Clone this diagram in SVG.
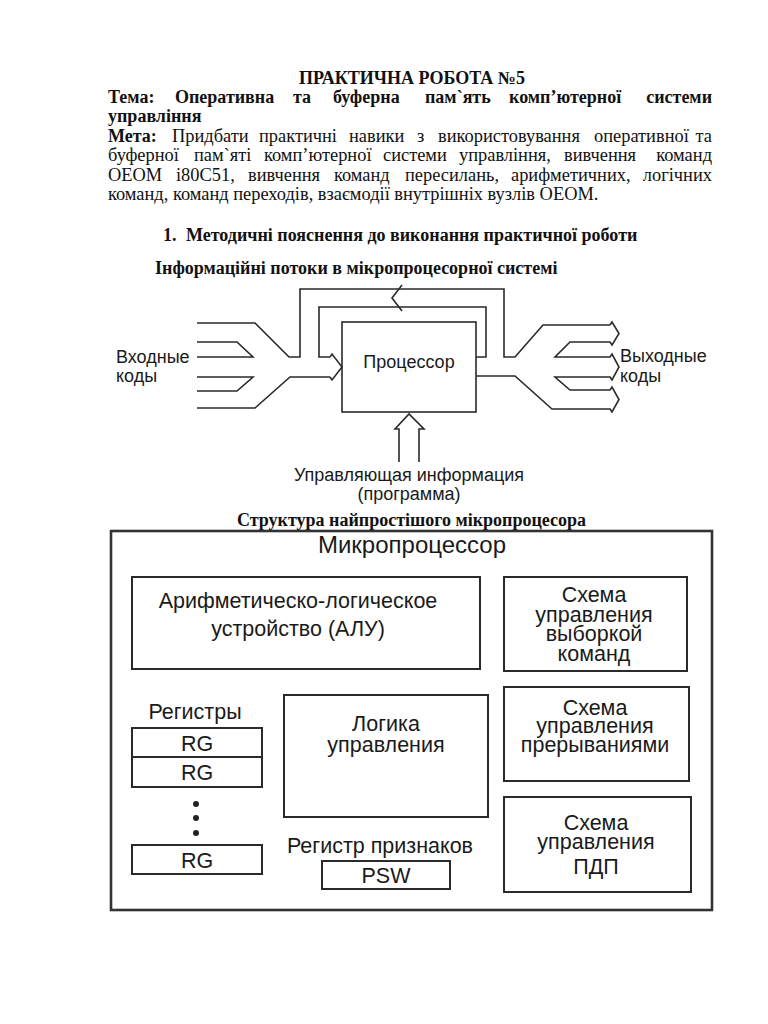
<svg xmlns="http://www.w3.org/2000/svg" width="768" height="1024" viewBox="0 0 768 1024">
<style>
.doc{font-family:"Liberation Serif","Times New Roman",serif;font-size:18.4px;fill:#111}
.b{font-weight:bold;font-size:18px}
.sans{font-family:"Liberation Sans",Arial,sans-serif;fill:#1a1a1a}
.f18{font-size:18px}
.f22{font-size:21.5px}
.f24{font-size:24px}
.mid{text-anchor:middle}
.end{text-anchor:end}
.ln{fill:none;stroke:#2a2a2a;stroke-width:1.6;stroke-linejoin:miter}
.box{fill:none;stroke:#2a2a2a;stroke-width:2}
.obox{fill:none;stroke:#333;stroke-width:2.6}
</style>
<rect width="768" height="1024" fill="#fff"/>
<g id="header">
<text class="doc b mid" x="412" y="84">ПРАКТИЧНА РОБОТА №5</text>
<text class="doc b" y="103"><tspan x="108">Тема:</tspan><tspan x="175">Оперативна</tspan><tspan x="293">та</tspan><tspan x="333">буферна</tspan><tspan x="425">пам`ять</tspan><tspan x="509">комп’ютерної</tspan></text>
<text class="doc b end" x="712" y="103">системи</text>
<text class="doc b" x="108" y="122">управління</text>
<text class="doc" y="142"><tspan class="b" x="108">Мета:</tspan><tspan x="172">Придбати</tspan><tspan x="259">практичні</tspan><tspan x="349">навики</tspan><tspan x="417">з</tspan><tspan x="438">використовування</tspan><tspan x="594">оперативної</tspan></text>
<text class="doc end" x="712" y="142">та</text>
<text class="doc" y="161"><tspan x="108">буферної</tspan><tspan x="194">пам`яті</tspan><tspan x="264">комп’ютерної</tspan><tspan x="383">системи</tspan><tspan x="459">управління,</tspan><tspan x="564">вивчення</tspan></text>
<text class="doc end" x="712" y="161">команд</text>
<text class="doc" y="181"><tspan x="108">ОЕОМ</tspan><tspan x="176">i80C51,</tspan><tspan x="248">вивчення</tspan><tspan x="334">команд</tspan><tspan x="405">пересилань,</tspan><tspan x="511">арифметичних,</tspan></text>
<text class="doc end" x="712" y="181">логічних</text>
<text class="doc" x="108" y="200">команд, команд переходів, взаємодії внутрішніх вузлів ОЕОМ.</text>
<text class="doc b" y="241"><tspan x="163">1.</tspan><tspan x="186">Методичні пояснення до виконання практичної роботи</tspan></text>
<text class="doc b" x="155" y="274">Інформаційні потоки в мікропроцесорної системі</text>
<text class="doc b" x="237" y="526">Структура найпростішого мікропроцесора</text>
</g>

<g id="flow-connectors">
<path class="ln" d="M197,323 H255 L289,357 H300 V289 H504 V357 H515 L543,325 H610"/>
<path class="ln" d="M197,342 H237 L253,357 H197"/>
<path class="ln" d="M197,377 H253 L237,391 H197"/>
<path class="ln" d="M197,408 H255 L290,377 H330"/>
<path class="ln" d="M476,357 H486 V307 H319 V357 H330"/>
<path class="ln" d="M330,357 L332,354 L342,367 L332,380 L330,377"/>
<path class="ln" d="M402,285 L392,298 L402,311"/>
<path class="ln" d="M610,325 L612,322 L619,333.5 L612,345 L610,342 H570 L555,357 H610 L612,354 L619,367 L612,380 L610,377 H555 L570,390 H610 L612,387 L619,399.5 L612,412 L610,409 H552 L515,376 H476"/>
<path class="ln" d="M399,462 V429 H395 L409,414 L424,429 H419 V462"/>
</g>

<g id="processor">
<rect class="ln" x="342" y="322" width="134" height="90"/>
<text class="sans f18 mid" x="409" y="368">Процессор</text>
</g>
<g id="input-codes">
<text class="sans f18" x="116" y="363">Входные</text>
<text class="sans f18" x="116" y="382">коды</text>
</g>
<g id="output-codes">
<text class="sans f18" x="620" y="362">Выходные</text>
<text class="sans f18" x="620" y="382">коды</text>
</g>
<g id="control-info">
<text class="sans f18 mid" x="409" y="481">Управляющая информация</text>
<text class="sans f18 mid" x="409" y="500">(программа)</text>
</g>

<g id="microprocessor">
<rect class="obox" x="111" y="531" width="601" height="379"/>
<text class="sans f24 mid" x="412" y="553">Микропроцессор</text>
</g>
<g id="alu">
<rect class="box" x="132" y="577" width="348" height="92"/>
<text class="sans f22 mid" x="298" y="608">Арифметическо-логическое</text>
<text class="sans f22 mid" x="298" y="636">устройство (АЛУ)</text>
</g>
<g id="fetch-control">
<rect class="box" x="504" y="577" width="183" height="94"/>
<text class="sans f22 mid" x="594" y="602">Схема</text>
<text class="sans f22 mid" x="594" y="622">управления</text>
<text class="sans f22 mid" x="594" y="641">выборкой</text>
<text class="sans f22 mid" x="594" y="661">команд</text>
</g>
<g id="interrupt-control">
<rect class="box" x="504" y="687" width="185" height="94"/>
<text class="sans f22 mid" x="595" y="715">Схема</text>
<text class="sans f22 mid" x="595" y="733">управления</text>
<text class="sans f22 mid" x="595" y="752">прерываниями</text>
</g>
<g id="dma-control">
<rect class="box" x="504" y="797" width="187" height="95"/>
<text class="sans f22 mid" x="596" y="830">Схема</text>
<text class="sans f22 mid" x="596" y="849">управления</text>
<text class="sans f22 mid" x="596" y="874">ПДП</text>
</g>
<g id="control-logic">
<rect class="box" x="284" y="695" width="204" height="122"/>
<text class="sans f22 mid" x="386" y="731">Логика</text>
<text class="sans f22 mid" x="386" y="752">управления</text>
</g>
<g id="registers">
<text class="sans f22 mid" x="195" y="719">Регистры</text>
<rect class="box" x="132" y="728" width="130" height="29"/>
<text class="sans f22 mid" x="197" y="751">RG</text>
<rect class="box" x="132" y="757" width="130" height="30"/>
<text class="sans f22 mid" x="197" y="780">RG</text>
<circle cx="196" cy="804" r="3" fill="#222"/>
<circle cx="196" cy="818" r="3" fill="#222"/>
<circle cx="196" cy="833" r="3" fill="#222"/>
<rect class="box" x="132" y="845" width="130" height="29"/>
<text class="sans f22 mid" x="197" y="868">RG</text>
</g>
<g id="flags-register">
<text class="sans f22 mid" x="380" y="853">Регистр признаков</text>
<rect class="box" x="322" y="861" width="128" height="28"/>
<text class="sans f22 mid" x="386" y="883">PSW</text>
</g>
</svg>
